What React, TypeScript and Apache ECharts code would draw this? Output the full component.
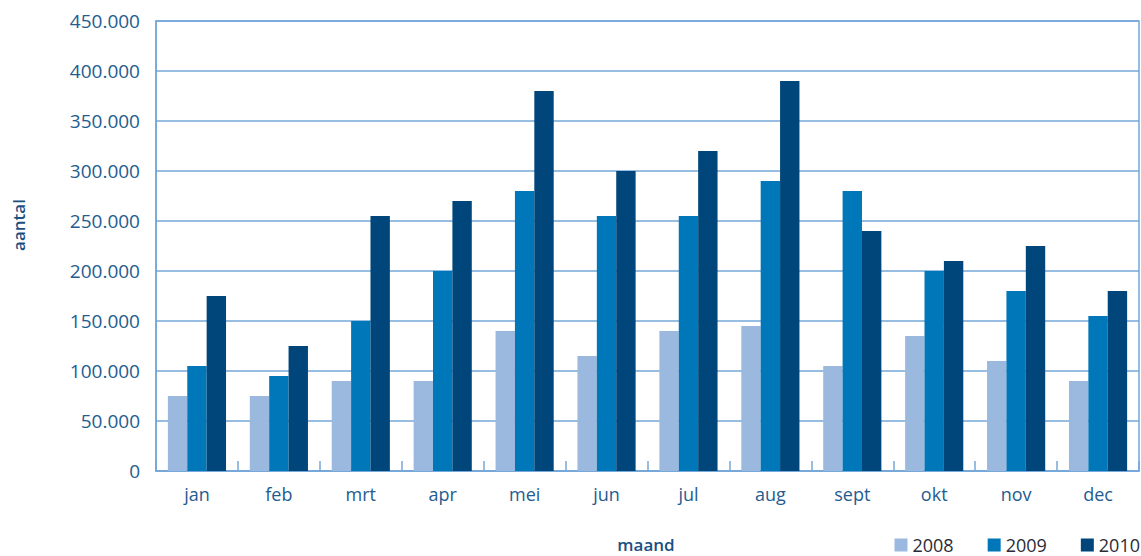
import React, { useEffect, useRef } from "react";
import * as echarts from "echarts";

const months = ["jan", "feb", "mrt", "apr", "mei", "jun", "jul", "aug", "sept", "okt", "nov", "dec"];
const years = ["2008", "2009", "2010"];
const values2008 = [75000, 75000, 90000, 90000, 140000, 115000, 140000, 145000, 105000, 135000, 110000, 90000];
const values2009 = [105000, 95000, 150000, 200000, 280000, 255000, 255000, 290000, 280000, 200000, 180000, 155000];
const values2010 = [175000, 125000, 255000, 270000, 380000, 300000, 320000, 390000, 240000, 210000, 225000, 180000];
const colors = ["#9bb9de", "#0077b9", "#00467a"];

const FONT = "'Open Sans', sans-serif";
const LABEL = "#245c8f";
const LINE = "#74a7da";

export default function App() {
  const ref = useRef<HTMLDivElement>(null);
  useEffect(() => {
    if (!ref.current) return;
    const chart = echarts.init(ref.current, undefined, { renderer: "svg" });
    const data = [values2008, values2009, values2010];
    chart.setOption({
      animation: false,
      textStyle: { fontFamily: FONT },
      grid: {
        left: 156,
        right: 2,
        top: 21,
        bottom: 85,
        show: true,
        borderColor: LINE,
        borderWidth: 1.5,
      },
      legend: {
        right: 1,
        top: 536,
        padding: 0,
        itemWidth: 13,
        itemHeight: 13,
        itemGap: 34,
        icon: "rect",
        data: years,
        textStyle: { fontFamily: FONT, fontSize: 18, lineHeight: 14, color: "#2b2b35" },
      },
      xAxis: {
        type: "category",
        data: months,
        axisLine: { lineStyle: { color: LINE, width: 1.5 } },
        axisTick: { show: true, inside: true, length: 10, lineStyle: { color: LINE, width: 1.5 } },
        axisLabel: { color: LABEL, fontSize: 18, margin: 14, fontFamily: FONT },
      },
      yAxis: {
        type: "value",
        min: 0,
        max: 450000,
        interval: 50000,
        axisLine: { show: true, lineStyle: { color: LINE, width: 1.5 } },
        axisTick: { show: false },
        splitLine: { lineStyle: { color: LINE, width: 1.5 } },
        axisLabel: {
          color: LABEL,
          fontSize: 19,
          margin: 16,
          fontFamily: FONT,
          formatter: (v: number) => (v === 0 ? "0" : String(v).replace(/\B(?=(\d{3})+(?!\d))/g, ".")),
        },
      },
      graphic: [
        {
          type: "text",
          x: 18,
          y: 225,
          rotation: Math.PI / 2,
          style: {
            text: "aantal",
            fontFamily: FONT,
            fontSize: 17,
            fontWeight: 600,
            fill: "#1a4f82",
            align: "center",
            verticalAlign: "middle",
          },
        },
        {
          type: "text",
          x: 646,
          y: 544,
          style: {
            text: "maand",
            fontFamily: FONT,
            fontSize: 17,
            fontWeight: 600,
            fill: "#1a4f82",
            align: "center",
            verticalAlign: "middle",
          },
        },
      ],
      series: years.map((y, i) => ({
        name: y,
        type: "bar",
        data: data[i],
        barGap: "0%",
        barCategoryGap: "29%",
        itemStyle: { color: colors[i] },
      })),
    });
    return () => chart.dispose();
  }, []);
  return (
    <div
      ref={ref}
      style={{ position: "absolute", left: 0, top: 0, width: 1141, height: 556, background: "#fff" }}
    />
  );
}
